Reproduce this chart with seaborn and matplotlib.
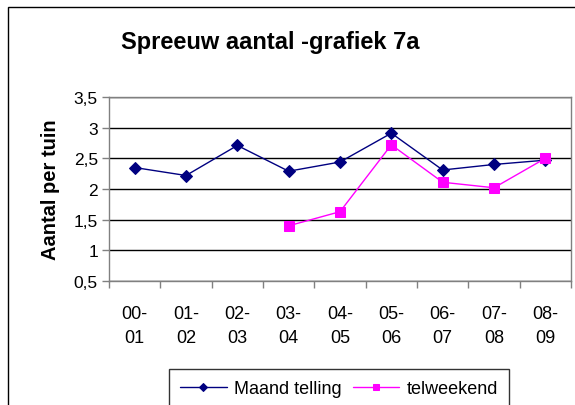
import numpy as np
import pandas as pd
import seaborn as sns
import matplotlib.pyplot as plt
from matplotlib.patches import Rectangle

# data
seasons = ['00-\n01', '01-\n02', '02-\n03', '03-\n04', '04-\n05',
           '05-\n06', '06-\n07', '07-\n08', '08-\n09']
maand_telling = [2.35, 2.22, 2.71, 2.29, 2.44, 2.91, 2.31, 2.40, 2.47]
telweekend = [np.nan, np.nan, np.nan, 1.40, 1.63, 2.72, 2.11, 2.02, 2.50]
y_ticks = [0.5, 1, 1.5, 2, 2.5, 3, 3.5]

df = pd.DataFrame({'pos': np.arange(len(seasons)),
                   'Maand telling': maand_telling,
                   'telweekend': telweekend})

sns.set_style('white')
plt.rcParams['font.family'] = ['Liberation Sans', 'DejaVu Sans']
plt.rcParams['text.color'] = 'black'

fig = plt.figure(figsize=(5.75, 4.06), dpi=100)
ax = fig.add_axes([109 / 575, 1 - 282 / 406, (571 - 109) / 575, (282 - 98) / 406])

sns.lineplot(data=df, x='pos', y='Maand telling', ax=ax, color='#000080',
             marker='D', markersize=6.5, markeredgecolor='#000080', linewidth=1,
             label='Maand telling')
sns.lineplot(data=df.dropna(), x='pos', y='telweekend', ax=ax, color='#FF00FF',
             marker='s', markersize=7, markeredgecolor='#FF00FF', linewidth=1,
             label='telweekend')

ax.set_xlim(-0.5, len(seasons) - 0.5)
ax.set_ylim(0.5, 3.5)
ax.set_yticks(y_ticks)
ax.set_yticklabels([str(t).replace('.', ',') if t % 1 else str(int(t)) for t in y_ticks],
                   fontsize=12.5)
ax.set_xticks(np.arange(len(seasons)))
ax.set_xticklabels(seasons, fontsize=13, linespacing=1.6)
ax.set_xticks(np.arange(len(seasons) + 1) - 0.5, minor=True)
ax.tick_params(axis='x', which='major', length=0, pad=17, labelcolor='black')
ax.tick_params(axis='x', which='minor', length=5, width=1, color='#808080', direction='out')
ax.tick_params(axis='y', length=5, width=1, color='#808080', direction='out', pad=3,
               labelcolor='black')
ax.xaxis.set_ticks_position('bottom')
ax.yaxis.set_ticks_position('left')

ax.grid(axis='y', color='black', linewidth=1)
ax.set_axisbelow(True)
for side in ['top', 'right', 'left', 'bottom']:
    ax.spines[side].set_color('#808080')
    ax.spines[side].set_linewidth(1)

ax.set_xlabel('')
ax.set_ylabel('Aantal per tuin', fontsize=14.5, fontweight='bold', labelpad=10,
              color='black')

fig.text(270 / 575, 1 - 43 / 406, 'Spreeuw aantal -grafiek 7a',
         ha='center', va='center', fontsize=17, fontweight='bold', color='black')

leg = ax.legend(loc='upper center', bbox_to_anchor=(339 / 575, 1 - 370 / 406),
                bbox_transform=fig.transFigure, ncol=2, frameon=True, fancybox=False,
                edgecolor='black', fontsize=13, handlelength=2.6, columnspacing=0.6,
                handletextpad=0.4, borderpad=0.6, borderaxespad=0, markerscale=0.7)
for t in leg.get_texts():
    t.set_color('black')

fig.patches.append(Rectangle((8 / 575, -0.1), 1.0, 1 - 8 / 406 + 0.1, transform=fig.transFigure,
                             fill=False, edgecolor='black', linewidth=1))

fig.savefig('out.png', dpi=100)
